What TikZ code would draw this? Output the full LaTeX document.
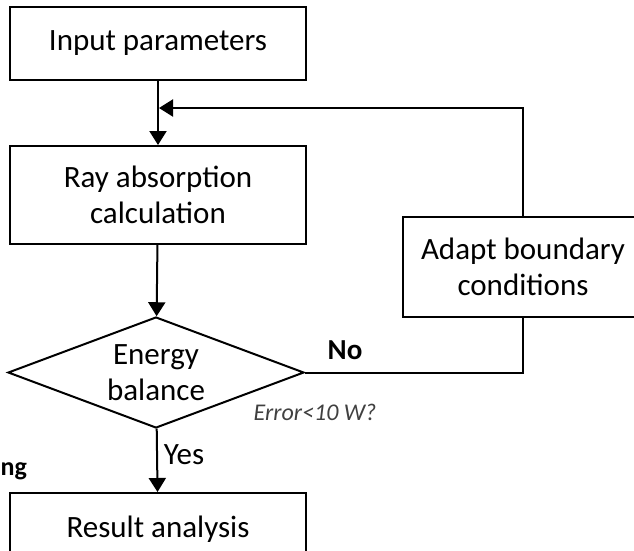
\documentclass[tikz,border=0pt]{standalone}
\usepackage{fontspec}
\setmainfont{Carlito}
\usetikzlibrary{arrows.meta}
\usetikzlibrary{shapes.geometric}
\tikzset{>={Triangle[width=17pt,length=14pt]}}

\begin{document}
\begin{tikzpicture}[x=1pt, y=-1pt, line width=2pt,
    box/.style={draw, rectangle, inner sep=0pt, align=center,
      font=\fontsize{31}{36}\selectfont},
    lbl/.style={inner sep=0pt, font=\fontsize{31}{36}\selectfont}]
  \useasboundingbox (0, 0) rectangle (634, 550);
  \clip (0, 0) rectangle (634, 550);
  % boxes
  \node[box, minimum width=296pt, minimum height=73pt] (input) at (158, 43.5) {Input parameters};
  \node[box, minimum width=296pt, minimum height=98pt] (ray) at (158, 195) {Ray absorption\\calculation};
  \node[box, diamond, aspect=2.67, minimum width=296pt, minimum height=111pt] (bal) at (156, 372.5) {Energy\\balance};
  \node[box, minimum width=240pt, minimum height=100pt] (adapt) at (523, 267) {Adapt boundary\\conditions};
  \node[box, minimum width=296pt, minimum height=72pt] (result) at (158, 529) {Result analysis};
  % labels
  \node[lbl, font=\bfseries\fontsize{29}{32}\selectfont] (no) at (345, 350) {No};
  \node[lbl, font=\itshape\fontsize{24}{28}\selectfont, text=black!75] (err) at (315, 412) {Error<10 W?};
  \node[lbl] (yes) at (184, 455) {Yes};
  \node[lbl, anchor=east, font=\bfseries\fontsize{26}{30}\selectfont] (ng) at (28, 471) {ng};
  % lines
  \coordinate (join) at (159, 108);
  \draw[->] (input) -- (ray);
  \draw[->] (ray) -- (bal);
  \draw (bal.east) -| (adapt.south);
  \draw[->] (adapt.north) |- (join);
  \draw[->] (bal) -- (result);
\end{tikzpicture}
\end{document}
